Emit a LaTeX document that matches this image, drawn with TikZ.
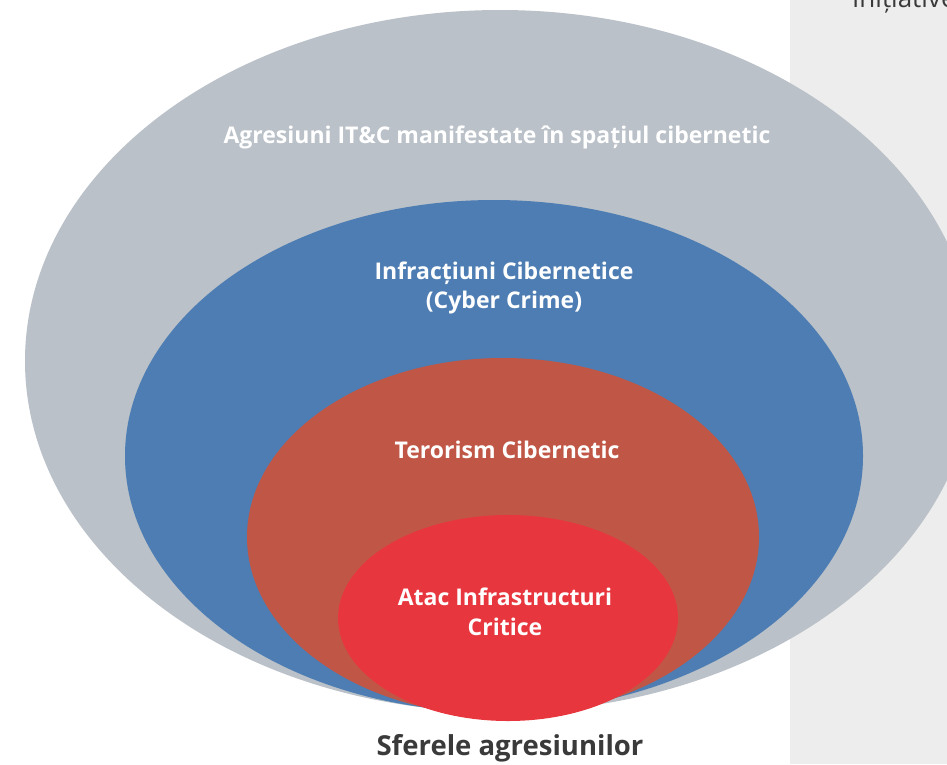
\documentclass[tikz,border=0pt]{standalone}
\usepackage{fontspec}
\setmainfont{Open Sans}
\usepackage{tikz}

\definecolor{sferagri}{HTML}{BAC1C8}
\definecolor{sferablue}{HTML}{4D7DB3}
\definecolor{sferabrick}{HTML}{C05746}
\definecolor{sferared}{HTML}{E8363E}
\definecolor{panelgri}{HTML}{EDEDED}
\definecolor{titlugri}{HTML}{3A3A3A}

\begin{document}
\begin{tikzpicture}[x=1pt, y=-1pt,
        lbl/.style={font={\fontsize{23}{29.5}\selectfont\bfseries}, text=white, align=center, inner sep=0pt}]
        \useasboundingbox (0,0) rectangle (947,764);
        \fill[panelgri] (790,0) rectangle (947,764);
        \node[font={\fontsize{26}{30}\selectfont}, text=titlugri, anchor=base west, inner sep=0pt] (initiative) at (852,7) {Inițiative};

        \fill[sferagri] (500,361) ellipse [x radius=475pt, y radius=351pt];
        \fill[sferablue] (494,456) ellipse [x radius=369pt, y radius=256pt];
        \fill[sferabrick] (503,537) ellipse [x radius=256pt, y radius=179pt];
        \fill[sferared] (508,618) ellipse [x radius=170pt, y radius=103pt];

        \node[lbl] (agresiuni) at (497,137) {Agresiuni IT\&C manifestate în spațiul cibernetic};
        \node[lbl] (infractiuni) at (504,288) {Infracțiuni Cibernetice\\(Cyber Crime)};
        \node[lbl] (terorism) at (507,450) {Terorism Cibernetic};
        \node[lbl] (atac) at (505,612) {Atac Infrastructuri\\Critice};

        \node[font={\fontsize{27.5}{30}\selectfont\bfseries}, text=titlugri, inner sep=0pt] (sferele) at (510,748) {Sferele agresiunilor};
    \end{tikzpicture}
\end{document}
